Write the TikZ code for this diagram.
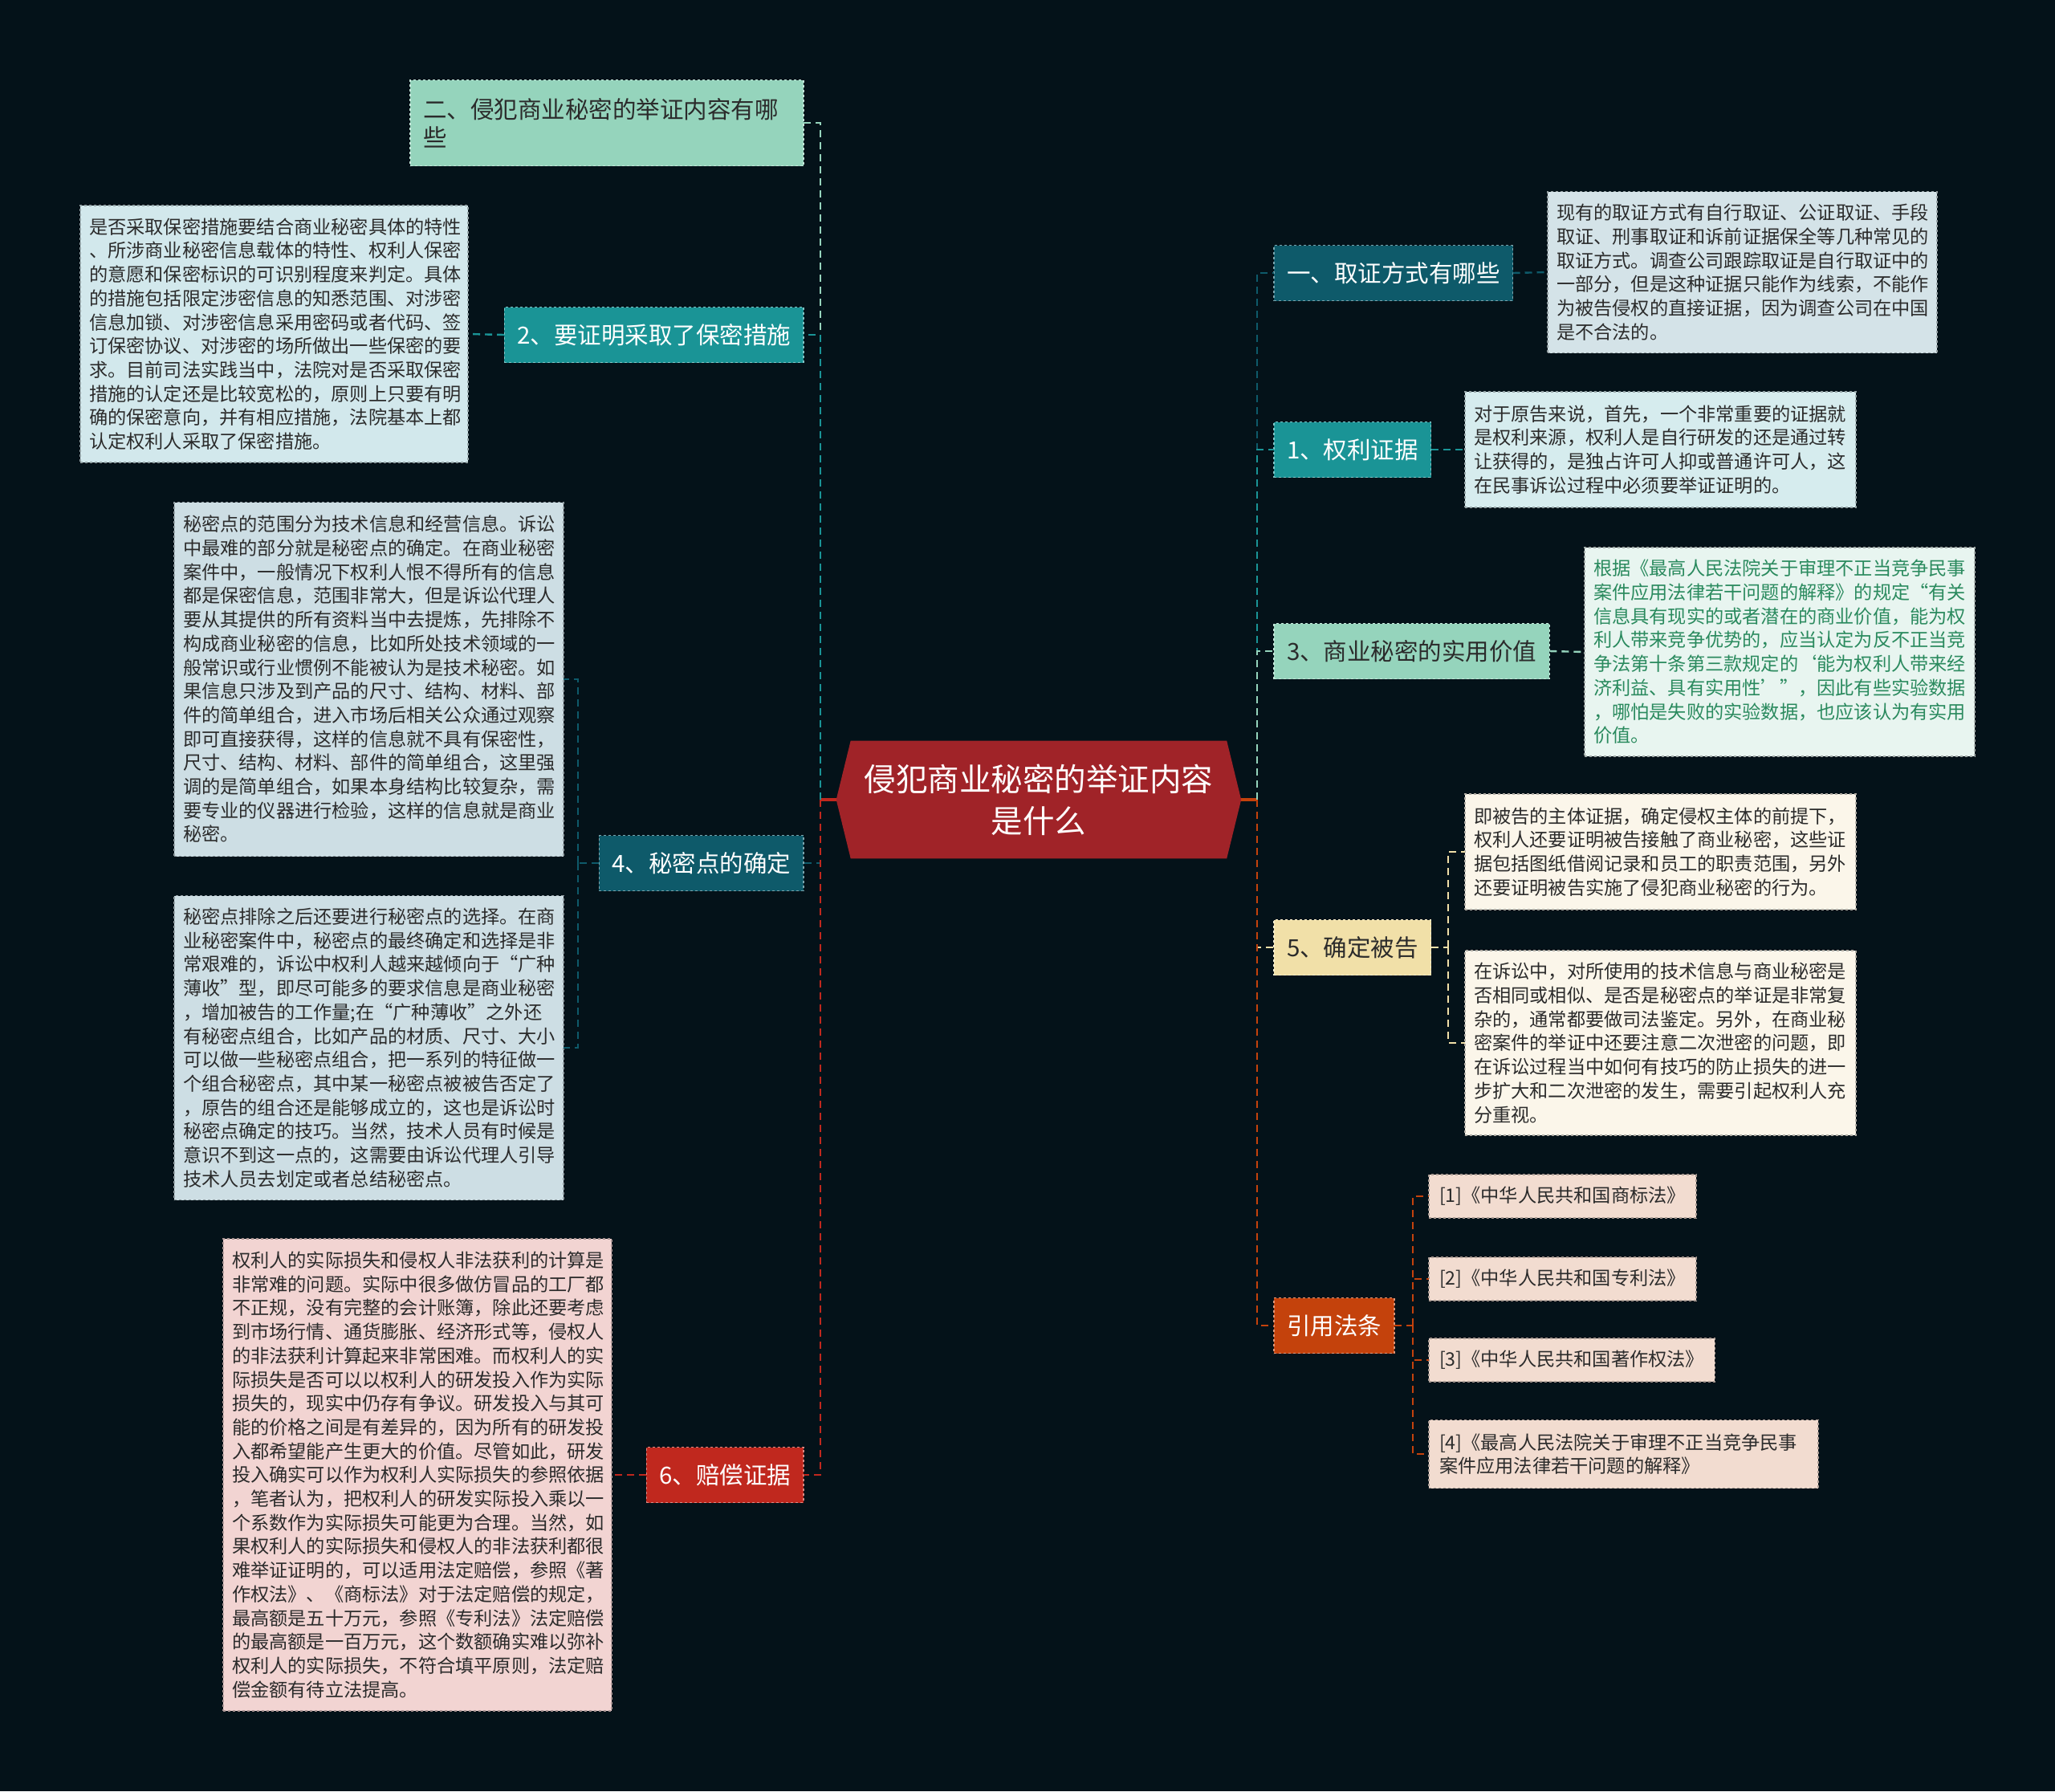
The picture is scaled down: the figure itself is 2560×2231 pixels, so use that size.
\documentclass[tikz,border=0pt]{standalone}
\usepackage{fontspec}
\setmainfont{Noto Sans CJK SC}
\definecolor{bgc}{HTML}{041219}
\definecolor{cmint}{HTML}{95D4BC}
\definecolor{cteal}{HTML}{1A9496}
\definecolor{cdteal}{HTML}{0E5A6A}
\definecolor{cred}{HTML}{C0281E}
\definecolor{corange}{HTML}{C4420C}
\definecolor{cbeige}{HTML}{F1E0A8}
\definecolor{ccenter}{HTML}{A02328}
\definecolor{fblue}{HTML}{D2E8EC}
\definecolor{fgray}{HTML}{CDDEE4}
\definecolor{fpink}{HTML}{F2D4D2}
\definecolor{fblue2}{HTML}{D4E3E8}
\definecolor{fblue3}{HTML}{D6ECEE}
\definecolor{fmint}{HTML}{E8F5F0}
\definecolor{fcream}{HTML}{FBF6EA}
\definecolor{fpeach}{HTML}{F2DCD0}
\definecolor{tdark}{HTML}{2B2B2B}
\definecolor{tgreen}{HTML}{2A8A5E}
\newcommand\detfont{\fontsize{23.2}{29.7}\selectfont}
\newcommand\labfont{\fontsize{29.5}{35}\selectfont}
\newcommand\cenfont{\fontsize{39.5}{52}\selectfont}
\tikzset{
  lab/.style args={#1/#2}{fill=#1, text=#2, draw=#1!55!white, dashed, line width=1.2pt,
    font=\labfont, minimum height=69pt, inner xsep=16pt, inner ysep=0pt, outer sep=0pt},
  det/.style args={#1/#2}{fill=#1, text=#2, draw=#1!70!black, dashed, line width=1.2pt,
    font=\detfont, align=left, inner xsep=11pt, inner ysep=0pt, outer sep=0pt, anchor=west},
  conn/.style={line width=2.4pt, dash pattern=on 9pt off 6pt},
  csolid/.style={line width=4pt},
}
\begin{document}
\begin{tikzpicture}[x=1pt,y=-1pt]
\fill[bgc] (0,0) rectangle (2560,2231);
% central node
\fill[ccenter] (1041.7,996) -- (1059.7,922.5) -- (1528.2,922.5) -- (1546.2,996) -- (1528.2,1069.4) -- (1059.7,1069.4) -- cycle;
\node[minimum width=504.5pt, minimum height=147pt, inner sep=0pt, outer sep=0pt, text=white, font=\cenfont, align=center] (C) at (1294,996) {侵犯商业秘密的举证内容\\是什么};
% left branch nodes
\node[lab=cmint/tdark, anchor=east, text width=458pt, minimum height=107pt, align=left] (Ner) at (1001,153) {二、侵犯商业秘密的举证内容有哪\\些};
\node[lab=cteal/white, anchor=east] (N2) at (1001,417) {2、要证明采取了保密措施};
\node[lab=cdteal/white, anchor=east] (N4) at (1001,1075) {4、秘密点的确定};
\node[lab=cred/white, anchor=east] (N6) at (1001,1837) {6、赔偿证据};
% right branch nodes
\node[lab=cdteal/white, anchor=west] (N1st) at (1587,340) {一、取证方式有哪些};
\node[lab=cteal/white, anchor=west] (N1) at (1587,560) {1、权利证据};
\node[lab=cmint/tdark, anchor=west] (N3) at (1587,811) {3、商业秘密的实用价值};
\node[lab=cbeige/tdark, anchor=west] (N5) at (1587,1180) {5、确定被告};
\node[lab=corange/white, anchor=west] (Ncite) at (1587,1651) {引用法条};
% detail boxes left
\node[det=fblue/tdark, text width=461pt, minimum height=320pt] (D2) at (100,416) {是否采取保密措施要结合商业秘密具体的特性\\、所涉商业秘密信息载体的特性、权利人保密\\的意愿和保密标识的可识别程度来判定。具体\\的措施包括限定涉密信息的知悉范围、对涉密\\信息加锁、对涉密信息采用密码或者代码、签\\订保密协议、对涉密的场所做出一些保密的要\\求。目前司法实践当中，法院对是否采取保密\\措施的认定还是比较宽松的，原则上只要有明\\确的保密意向，并有相应措施，法院基本上都\\认定权利人采取了保密措施。};
\node[det=fgray/tdark, text width=463pt, minimum height=441pt] (D4a) at (217,846) {秘密点的范围分为技术信息和经营信息。诉讼\\中最难的部分就是秘密点的确定。在商业秘密\\案件中，一般情况下权利人恨不得所有的信息\\都是保密信息，范围非常大，但是诉讼代理人\\要从其提供的所有资料当中去提炼，先排除不\\构成商业秘密的信息，比如所处技术领域的一\\般常识或行业惯例不能被认为是技术秘密。如\\果信息只涉及到产品的尺寸、结构、材料、部\\件的简单组合，进入市场后相关公众通过观察\\即可直接获得，这样的信息就不具有保密性，\\尺寸、结构、材料、部件的简单组合，这里强\\调的是简单组合，如果本身结构比较复杂，需\\要专业的仪器进行检验，这样的信息就是商业\\秘密。};
\node[det=fgray/tdark, text width=463pt, minimum height=379pt] (D4b) at (217,1305) {秘密点排除之后还要进行秘密点的选择。在商\\业秘密案件中，秘密点的最终确定和选择是非\\常艰难的，诉讼中权利人越来越倾向于“广种\\薄收”型，即尽可能多的要求信息是商业秘密\\，增加被告的工作量;在“广种薄收”之外还\\有秘密点组合，比如产品的材质、尺寸、大小\\可以做一些秘密点组合，把一系列的特征做一\\个组合秘密点，其中某一秘密点被被告否定了\\，原告的组合还是能够成立的，这也是诉讼时\\秘密点确定的技巧。当然，技术人员有时候是\\意识不到这一点的，这需要由诉讼代理人引导\\技术人员去划定或者总结秘密点。};
\node[det=fpink/tdark, text width=462pt, minimum height=588pt] (D6) at (278,1837) {权利人的实际损失和侵权人非法获利的计算是\\非常难的问题。实际中很多做仿冒品的工厂都\\不正规，没有完整的会计账簿，除此还要考虑\\到市场行情、通货膨胀、经济形式等，侵权人\\的非法获利计算起来非常困难。而权利人的实\\际损失是否可以以权利人的研发投入作为实际\\损失的，现实中仍存有争议。研发投入与其可\\能的价格之间是有差异的，因为所有的研发投\\入都希望能产生更大的价值。尽管如此，研发\\投入确实可以作为权利人实际损失的参照依据\\，笔者认为，把权利人的研发实际投入乘以一\\个系数作为实际损失可能更为合理。当然，如\\果权利人的实际损失和侵权人的非法获利都很\\难举证证明的，可以适用法定赔偿，参照《著\\作权法》、《商标法》对于法定赔偿的规定，\\最高额是五十万元，参照《专利法》法定赔偿\\的最高额是一百万元，这个数额确实难以弥补\\权利人的实际损失，不符合填平原则，法定赔\\偿金额有待立法提高。};
% detail boxes right
\node[det=fblue2/tdark, text width=463pt, minimum height=201pt] (D1st) at (1928,339) {现有的取证方式有自行取证、公证取证、手段\\取证、刑事取证和诉前证据保全等几种常见的\\取证方式。调查公司跟踪取证是自行取证中的\\一部分，但是这种证据只能作为线索，不能作\\为被告侵权的直接证据，因为调查公司在中国\\是不合法的。};
\node[det=fblue3/tdark, text width=465pt, minimum height=144pt] (D1) at (1825,560) {对于原告来说，首先，一个非常重要的证据就\\是权利来源，权利人是自行研发的还是通过转\\让获得的，是独占许可人抑或普通许可人，这\\在民事诉讼过程中必须要举证证明的。};
\node[det=fmint/tgreen, text width=464pt, minimum height=260pt] (D3) at (1974,812) {根据《最高人民法院关于审理不正当竞争民事\\案件应用法律若干问题的解释》的规定“有关\\信息具有现实的或者潜在的商业价值，能为权\\利人带来竞争优势的，应当认定为反不正当竞\\争法第十条第三款规定的‘能为权利人带来经\\济利益、具有实用性’”，因此有些实验数据\\，哪怕是失败的实验数据，也应该认为有实用\\价值。};
\node[det=fcream/tdark, text width=465pt, minimum height=144pt] (D5a) at (1825,1061) {即被告的主体证据，确定侵权主体的前提下，\\权利人还要证明被告接触了商业秘密，这些证\\据包括图纸借阅记录和员工的职责范围，另外\\还要证明被告实施了侵犯商业秘密的行为。};
\node[det=fcream/tdark, text width=465pt, minimum height=230pt] (D5b) at (1825,1299) {在诉讼中，对所使用的技术信息与商业秘密是\\否相同或相似、是否是秘密点的举证是非常复\\杂的，通常都要做司法鉴定。另外，在商业秘\\密案件的举证中还要注意二次泄密的问题，即\\在诉讼过程当中如何有技巧的防止损失的进一\\步扩大和二次泄密的发生，需要引起权利人充\\分重视。};
% citations
\node[det=fpeach/tdark, inner xsep=13pt, minimum height=54pt] (C1) at (1780,1490) {[1]《中华人民共和国商标法》};
\node[det=fpeach/tdark, inner xsep=13pt, minimum height=54pt] (C2) at (1780,1593) {[2]《中华人民共和国专利法》};
\node[det=fpeach/tdark, inner xsep=13pt, minimum height=54pt] (C3) at (1780,1694) {[3]《中华人民共和国著作权法》};
\node[det=fpeach/tdark, inner xsep=13pt, text width=459pt, minimum height=85pt] (C4) at (1780,1811) {[4]《最高人民法院关于审理不正当竞争民事\\案件应用法律若干问题的解释》};
% trunk connectors
\coordinate (LT) at (1022,996);
\coordinate (RT) at (1566,996);
\draw[csolid, cred] (C.west) -- (LT);
\draw[csolid, corange] (C.east) -- (RT);
\draw[conn, cmint] (LT) |- (Ner.east);
\draw[conn, cteal] (LT) |- (N2.east);
\draw[conn, cdteal] (LT) |- (N4.east);
\draw[conn, cred] (LT) |- (N6.east);
\draw[conn, cdteal] (RT) |- (N1st.west);
\draw[conn, cteal] (RT) |- (N1.west);
\draw[conn, cmint] (RT) |- (N3.west);
\draw[conn, cbeige] (RT) |- (N5.west);
\draw[conn, corange] (RT) |- (Ncite.west);
% detail connectors
\draw[conn, cteal] (N2.west) -- (D2.east);
\draw[conn, cred] (N6.west) -- (D6.east);
\coordinate (B4) at (720,1075);
\draw[conn, cdteal] (N4.west) -- (B4);
\draw[conn, cdteal] (B4) |- (D4a.east);
\draw[conn, cdteal] (B4) |- (D4b.east);
\draw[conn, cdteal] (N1st.east) -- (D1st.west);
\draw[conn, cteal] (N1.east) -- (D1.west);
\draw[conn, cmint] (N3.east) -- (D3.west);
\coordinate (B5) at (1804,1180);
\draw[conn, cbeige] (N5.east) -- (B5);
\draw[conn, cbeige] (B5) |- (D5a.west);
\draw[conn, cbeige] (B5) |- (D5b.west);
\coordinate (BC) at (1760,1651);
\draw[conn, corange] (Ncite.east) -- (BC);
\draw[conn, corange] (BC) |- (C1.west);
\draw[conn, corange] (BC) |- (C2.west);
\draw[conn, corange] (BC) |- (C3.west);
\draw[conn, corange] (BC) |- (C4.west);
\end{tikzpicture}
\end{document}
